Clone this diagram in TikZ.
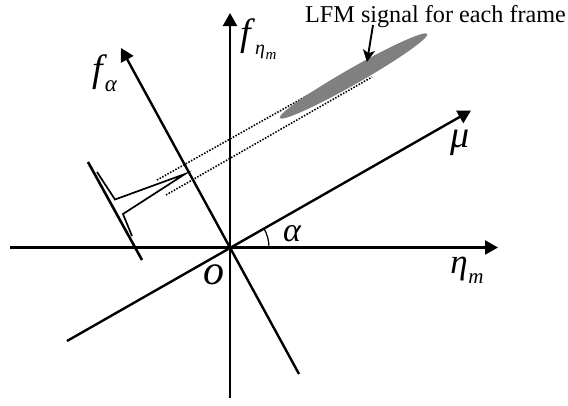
\documentclass[tikz,border=0pt]{standalone}
\usepackage{fontspec}
\setmainfont{Liberation Serif}
\usetikzlibrary{arrows.meta}
\newcommand{\fsz}[1]{\fontsize{#1}{#1}\selectfont\itshape}
\tikzset{
 axis/.style={line width=2.4pt,-{Triangle[length=13pt,width=14pt]}},
 plain/.style={line width=2.6pt},
 thin line/.style={line width=1.7pt},
 dots/.style={line width=1.6pt,dash pattern=on 1.5pt off 1.5pt},
 lab/.style={inner sep=0pt},
}
\begin{document}
\begin{tikzpicture}[x=1pt,y=-1pt]
\useasboundingbox (0,0) rectangle (568,405);
\coordinate (xl) at (10,247.5); \coordinate (xr) at (498,247.5);
\coordinate (yb) at (230,398); \coordinate (yt) at (230,13);
\coordinate (ml) at (67,341); \coordinate (mr) at (471,110.5);
\coordinate (fb) at (299,374); \coordinate (ft) at (121,48);
\draw[axis] (xl) -- (xr);
\draw[axis] (yb) -- (yt);
\draw[axis] (ml) -- (mr);
\draw[axis] (fb) -- (ft);
\coordinate (d1a) at (157,180); \coordinate (d1b) at (367,62);
\coordinate (d2a) at (166,195); \coordinate (d2b) at (372,77);
\draw[dots] (d1a) -- (d1b);
\draw[dots] (d2a) -- (d2b);
\fill[black!50] (353.5,76) ellipse [x radius=85,y radius=8,rotate=29.7];
\coordinate (b1) at (88,162); \coordinate (b2) at (142,260);
\draw[plain] (b1) -- (b2);
\coordinate (tip) at (185,174);
\coordinate (p1) at (115,199.5); \coordinate (p2) at (123,214);
\coordinate (q1) at (97,172); \coordinate (q2) at (132,236);
\draw[thin line] (q1) -- (p1) -- (tip) -- (p2) -- (q2);
\node[inner sep=0pt,anchor=base west,font=\fontsize{24.2}{25}\selectfont] (t) at (305,22.7) {LFM signal for each frame};
\coordinate (as) at (373,25); \coordinate (ae) at (367,62);
\draw[line width=1.9pt,-{Stealth[length=12pt,width=12pt,inset=3pt]}] (as) -- (ae);
\draw[line width=1.2pt] (269,247.5) arc [start angle=0,end angle=-30,radius=39];
\node[lab,font=\fsz{38}] (fa) at (98,72) {f};
\node[lab,font=\fsz{23}] (fas) at (111,86) {α};
\node[lab,font=\fsz{38}] (fe) at (246,36) {f};
\node[lab,font=\fsz{20}] (fes) at (260,52) {η};
\node[lab,font=\fsz{15}] (fem) at (271,56) {m};
\node[lab,font=\fsz{38}] (mu) at (460,143) {μ};
\node[lab,font=\fsz{34}] (al) at (292,234) {α};
\node[lab,font=\fsz{42}] (oo) at (214,275) {o};
\node[lab,font=\fsz{35}] (et) at (459,269) {η};
\node[lab,font=\fsz{21}] (em) at (476,279) {m};
\end{tikzpicture}
\end{document}
